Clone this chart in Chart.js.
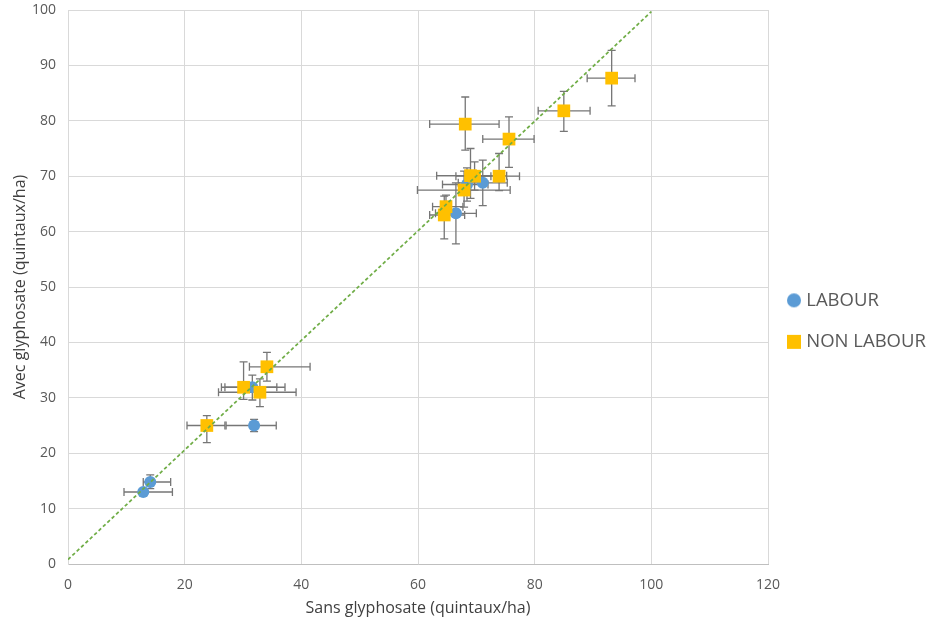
<!DOCTYPE html>
<html lang="fr">

<head>
    <meta charset="UTF-8">
    <title>Rendement avec / sans glyphosate</title>
    <!-- Chart.js -->
    <script src="https://cdn.jsdelivr.net/npm/chart.js"></script>
    <style>
        html, body {
            margin: 0;
            padding: 0;
            background: #ffffff;
        }

        .chart-box {
            position: relative;
            width: 927px;
            height: 622px;
        }
    </style>
</head>

<body>
    <div class="chart-box">
        <canvas id="yieldChart"></canvas>
    </div>

    <script>
        // Rendements (quintaux/ha) : sans glyphosate (x) / avec glyphosate (y)
        const labourX = [14.1, 12.9, 31.9, 31.6, 66.5, 68.4, 71.1];
        const labourY = [14.8, 13.0, 25.0, 31.9, 63.3, 68.5, 68.8];
        // bornes des barres d'erreur [min, max]
        const labourXErr = [[12.9, 17.6], [9.6, 17.9], [27.1, 35.7], [26.9, 37.2], [63.0, 70.0], [64.2, 72.0], [66.9, 75.3]];
        const labourYErr = [[13.6, 16.1], [12.4, 13.6], [23.9, 26.1], [29.6, 34.1], [57.8, 68.8], [65.5, 71.5], [64.7, 72.9]];

        const nonLabourX = [93.2, 85.0, 68.1, 75.6, 73.9, 69.0, 69.7, 67.9, 64.8, 64.5, 34.1, 30.1, 32.9, 23.8];
        const nonLabourY = [87.7, 81.8, 79.4, 76.7, 70.0, 70.1, 70.0, 67.5, 64.5, 63.0, 35.6, 31.9, 31.0, 25.0];
        const nonLabourXErr = [[89.0, 97.2], [80.6, 89.5], [62.0, 73.9], [71.1, 79.9], [70.4, 77.4], [63.2, 75.2], [66.5, 72.5],
            [59.9, 75.8], [62.5, 67.7], [62.0, 68.0], [31.1, 41.5], [26.3, 35.8], [25.8, 39.1], [20.4, 26.9]];
        const nonLabourYErr = [[82.7, 92.7], [78.1, 85.3], [74.7, 84.3], [71.6, 80.7], [67.4, 74.1], [66.0, 75.0], [67.5, 72.6],
            [64.4, 70.9], [62.3, 66.6], [58.7, 66.4], [33.0, 38.2], [29.7, 36.5], [28.4, 33.4], [21.9, 26.8]];

        // droite y = x (pointillés verts)
        const refLineX = [0, 100];
        const refLineY = [0.8, 99.7];

        const xTicks = [0, 20, 40, 60, 80, 100, 120];
        const yTicks = [0, 10, 20, 30, 40, 50, 60, 70, 80, 90, 100];

        const BLUE = '#5B9BD5';
        const GOLD = '#FFC000';
        const GREEN = '#70AD47';
        const TEXT = '#595959';
        const FONT = "'Open Sans', sans-serif";
        const LEGEND_WIDTH = 159;

        function toPoints(xs, ys) {
            return xs.map((x, i) => ({ x: x, y: ys[i] }));
        }

        // petites vignettes pour la légende (cercle / carré pleins)
        function legendMarker(shape, color) {
            const c = document.createElement('canvas');
            c.width = 16;
            c.height = 16;
            const g = c.getContext('2d');
            g.fillStyle = color;
            if (shape === 'circle') {
                g.beginPath();
                g.arc(8, 8, 7, 0, Math.PI * 2);
                g.fill();
            } else {
                g.fillRect(1, 1, 14, 14);
            }
            return c;
        }

        // barres d'erreur horizontales et verticales, dessinées sous les marqueurs
        const errorBars = {
            id: 'errorBars',
            beforeDatasetsDraw(chart) {
                const ctx = chart.ctx;
                const xs = chart.scales.x;
                const ys = chart.scales.y;
                const cap = 4;
                ctx.save();
                ctx.strokeStyle = '#767676';
                ctx.lineWidth = 1.3;
                chart.data.datasets.forEach(ds => {
                    if (!ds.errX) return;
                    ds.data.forEach((p, i) => {
                        const px = xs.getPixelForValue(p.x);
                        const py = ys.getPixelForValue(p.y);
                        const x0 = xs.getPixelForValue(ds.errX[i][0]);
                        const x1 = xs.getPixelForValue(ds.errX[i][1]);
                        const y0 = ys.getPixelForValue(ds.errY[i][0]);
                        const y1 = ys.getPixelForValue(ds.errY[i][1]);
                        ctx.beginPath();
                        ctx.moveTo(x0, py); ctx.lineTo(x1, py);
                        ctx.moveTo(x0, py - cap); ctx.lineTo(x0, py + cap);
                        ctx.moveTo(x1, py - cap); ctx.lineTo(x1, py + cap);
                        ctx.moveTo(px, y0); ctx.lineTo(px, y1);
                        ctx.moveTo(px - cap, y0); ctx.lineTo(px + cap, y0);
                        ctx.moveTo(px - cap, y1); ctx.lineTo(px + cap, y1);
                        ctx.stroke();
                    });
                });
                ctx.restore();
            }
        };

        // largeur fixe pour la légende à droite
        const legendWidth = {
            id: 'legendWidth',
            beforeLayout(chart) {
                const lg = chart.legend;
                if (!lg || lg._fixedWidth) return;
                const fit = lg.fit.bind(lg);
                lg.fit = function () {
                    fit();
                    this.width = LEGEND_WIDTH;
                };
                lg._fixedWidth = true;
            }
        };

        const markers = {
            LABOUR: legendMarker('circle', BLUE),
            'NON LABOUR': legendMarker('rect', GOLD)
        };

        window.onload = function () {
            new Chart(document.getElementById('yieldChart').getContext('2d'), {
                type: 'scatter',
                data: {
                    datasets: [{
                        label: 'LABOUR',
                        order: 2,
                        data: toPoints(labourX, labourY),
                        errX: labourXErr,
                        errY: labourYErr,
                        pointStyle: 'circle',
                        pointRadius: 6,
                        pointHoverRadius: 6,
                        backgroundColor: BLUE,
                        borderColor: BLUE,
                        borderWidth: 0
                    }, {
                        label: 'NON LABOUR',
                        order: 1,
                        data: toPoints(nonLabourX, nonLabourY),
                        errX: nonLabourXErr,
                        errY: nonLabourYErr,
                        pointStyle: 'rect',
                        pointRadius: 9,
                        pointHoverRadius: 9,
                        backgroundColor: GOLD,
                        borderColor: GOLD,
                        borderWidth: 0
                    }, {
                        type: 'line',
                        label: 'y = x',
                        order: 0,
                        data: toPoints(refLineX, refLineY),
                        borderColor: GREEN,
                        borderWidth: 1.75,
                        borderDash: [3.5, 2.5],
                        pointRadius: 0,
                        fill: false
                    }]
                },
                options: {
                    responsive: true,
                    maintainAspectRatio: false,
                    animation: false,
                    layout: { padding: { top: 0, left: 4, right: 0, bottom: 3 } },
                    scales: {
                        x: {
                            type: 'linear',
                            min: 0,
                            max: 120,
                            afterBuildTicks: axis => { axis.ticks = xTicks.map(v => ({ value: v })); },
                            afterFit: axis => { axis.height = 55; },
                            grid: { color: '#d9d9d9', drawTicks: false },
                            border: { color: '#bfbfbf', width: 1 },
                            ticks: { color: TEXT, padding: 13, font: { family: FONT, size: 14 } },
                            title: {
                                display: true,
                                text: 'Sans glyphosate (quintaux/ha)',
                                color: '#404040',
                                padding: { top: 4, bottom: 1 },
                                font: { family: FONT, size: 16 }
                            }
                        },
                        y: {
                            min: 0,
                            max: 100,
                            afterBuildTicks: axis => { axis.ticks = yTicks.map(v => ({ value: v })); },
                            afterFit: axis => { axis.width = 64; axis.paddingTop = 10; },
                            grid: { color: '#d9d9d9', drawTicks: false },
                            border: { color: '#d9d9d9', width: 1 },
                            ticks: { color: TEXT, padding: 12, font: { family: FONT, size: 14 } },
                            title: {
                                display: true,
                                text: 'Avec glyphosate (quintaux/ha)',
                                color: '#404040',
                                padding: { top: 7, bottom: 3 },
                                font: { family: FONT, size: 16 }
                            }
                        }
                    },
                    plugins: {
                        legend: {
                            position: 'right',
                            title: { display: true, text: ' ', padding: 2, font: { size: 16 } },
                            labels: {
                                usePointStyle: true,
                                boxWidth: 6,
                                boxHeight: 14,
                                padding: 23,
                                color: TEXT,
                                font: { family: FONT, size: 18.5 },
                                filter: item => item.text !== 'y = x',
                                sort: (a, b) => a.datasetIndex - b.datasetIndex,
                                generateLabels: chart => {
                                    const items = Chart.defaults.plugins.legend.labels.generateLabels(chart);
                                    items.forEach(it => { if (markers[it.text]) it.pointStyle = markers[it.text]; });
                                    return items;
                                }
                            }
                        },
                        tooltip: { enabled: false }
                    }
                },
                plugins: [errorBars, legendWidth]
            });
        };
    </script>
</body>

</html>
